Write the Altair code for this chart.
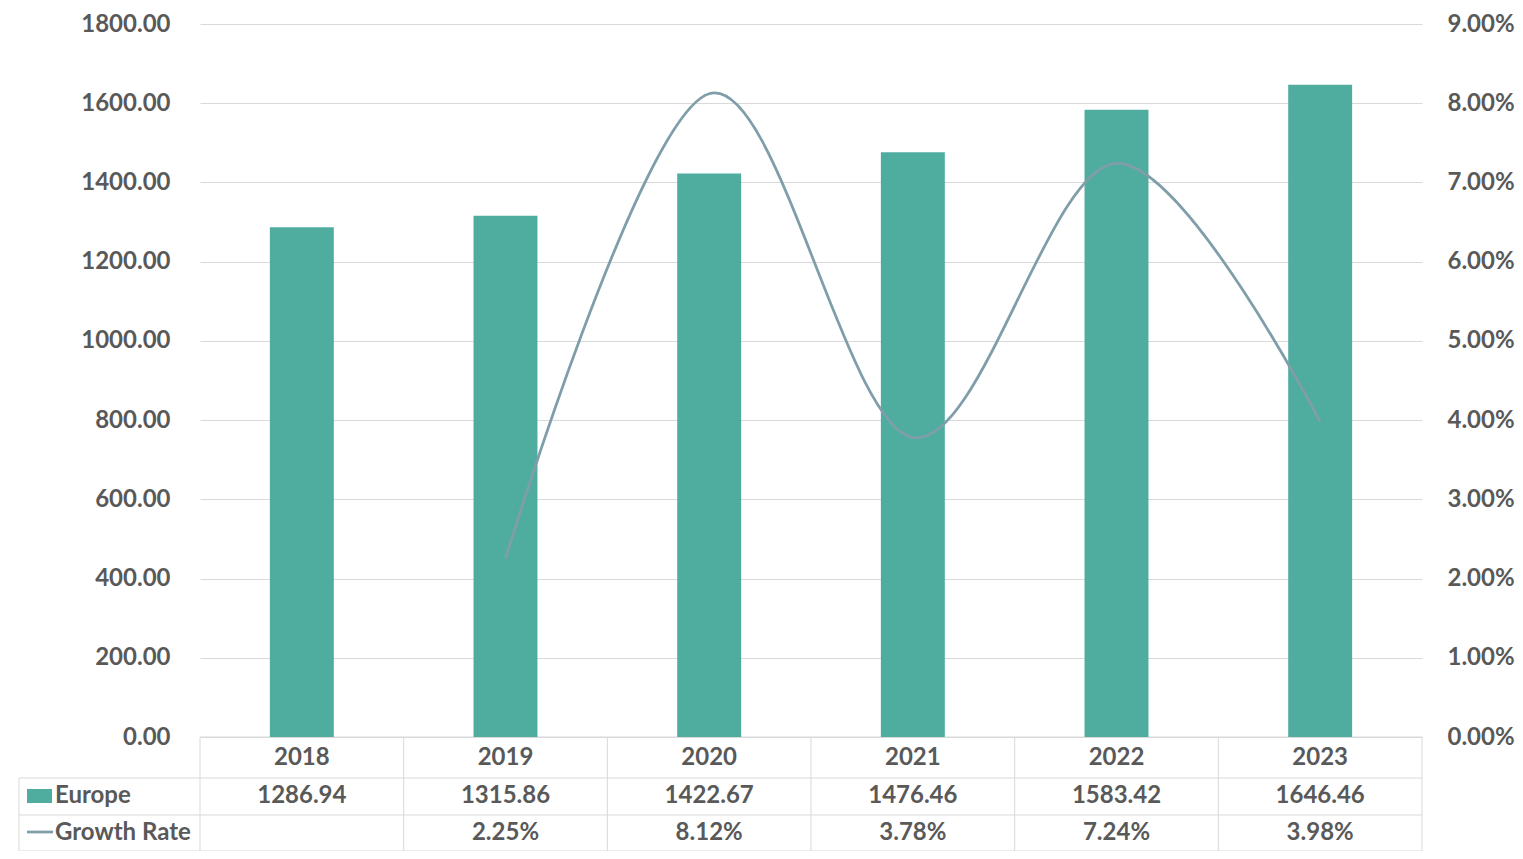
import altair as alt
import pandas as pd

years = ["2018", "2019", "2020", "2021", "2022", "2023"]
europe = [1286.94, 1315.86, 1422.67, 1476.46, 1583.42, 1646.46]
growth_pct = [None, 2.25, 8.12, 3.78, 7.24, 3.98]
series_names = ["Europe", "Growth Rate"]
left_ticks = [0, 200, 400, 600, 800, 1000, 1200, 1400, 1600, 1800]
right_ticks = [0, 0.01, 0.02, 0.03, 0.04, 0.05, 0.06, 0.07, 0.08, 0.09]

df = pd.DataFrame({
    "year": years,
    "europe": europe,
    "growth": [g / 100 if g is not None else None for g in growth_pct],
})

W, H = 1222, 713
BAR = "#4fada0"
LINE = "#7f9eaa"
TXT = "#595959"
GRID = "#d9d9d9"
FONT = "Lato"
FS = 24

xenc = alt.X("year:N", sort=years,
             scale=alt.Scale(paddingInner=0.686, paddingOuter=0.343),
             axis=None)

bars = alt.Chart(df).mark_bar(color=BAR).encode(
    x=xenc,
    y=alt.Y("europe:Q", scale=alt.Scale(domain=[0, 1800]),
            axis=alt.Axis(values=left_ticks, format=".2f", title=None,
                          domain=False, ticks=False, labelPadding=30,
                          grid=True, gridColor=GRID, gridWidth=1)),
)

line = alt.Chart(df).mark_line(color=LINE, strokeWidth=2.75, interpolate="cardinal").encode(
    x=xenc,
    y=alt.Y("growth:Q", scale=alt.Scale(domain=[0, 0.09]),
            axis=alt.Axis(values=right_ticks, format=".2%", title=None, orient="right",
                          domain=False, ticks=False, labelPadding=25, grid=False)),
)

def txt(**kw):
    return dict(font=FONT, fontWeight="bold", fontSize=FS, color=TXT, baseline="middle", **kw)

year_text = alt.Chart(df).mark_text(**txt(align="center")).encode(
    x=xenc, y=alt.value(H + 21), text="year:N")
eu_text = alt.Chart(df).mark_text(**txt(align="center")).encode(
    x=xenc, y=alt.value(H + 59), text=alt.Text("europe:Q", format=".2f"))
gr_text = alt.Chart(df).transform_filter("datum.growth != null").mark_text(**txt(align="center")).encode(
    x=xenc, y=alt.value(H + 96), text=alt.Text("growth:Q", format=".2%"))

names_df = pd.DataFrame({"name": series_names})
name_layers = []
for nm, yy in zip(series_names, [H + 59, H + 96]):
    name_layers.append(
        alt.Chart(names_df).transform_filter(alt.datum.name == nm)
        .mark_text(**txt(align="left"))
        .encode(x=alt.value(-145), y=alt.value(yy), text="name:N")
    )

one = pd.DataFrame({"k": [0]})
swatch = alt.Chart(one).mark_rect(color=BAR).encode(
    x=alt.value(-173), x2=alt.value(-148), y=alt.value(H + 52), y2=alt.value(H + 66))
swline = alt.Chart(one).mark_rule(color=LINE, strokeWidth=2.75).encode(
    x=alt.value(-173), x2=alt.value(-147), y=alt.value(H + 95))

segs = [
    (0, W, H, H),
    (-181, W, H + 41, H + 41),
    (-181, W, H + 78, H + 78),
    (-181, W, H + 114, H + 114),
    (-181, -181, H + 41, H + 114),
]
step = W / 6
for i in range(7):
    segs.append((step * i, step * i, H, H + 114))

rules = []
for (a, b, c, d) in segs:
    rules.append(alt.Chart(one).mark_rule(color=GRID, strokeWidth=1).encode(
        x=alt.value(a), x2=alt.value(b), y=alt.value(c), y2=alt.value(d)))

chart = alt.layer(
    *rules, bars, line, year_text, eu_text, gr_text, *name_layers, swatch, swline
).resolve_scale(y="independent").properties(
    width=W, height=H,
    padding={"left": 192, "top": 16, "right": 93, "bottom": 114},
    autosize=alt.AutoSizeParams(type="none"),
).configure_view(stroke=None).configure_axis(
    labelFont=FONT, labelFontWeight="bold", labelFontSize=FS, labelColor=TXT,
)

chart.save("out.html", embed_options={"renderer": "svg", "actions": False})
